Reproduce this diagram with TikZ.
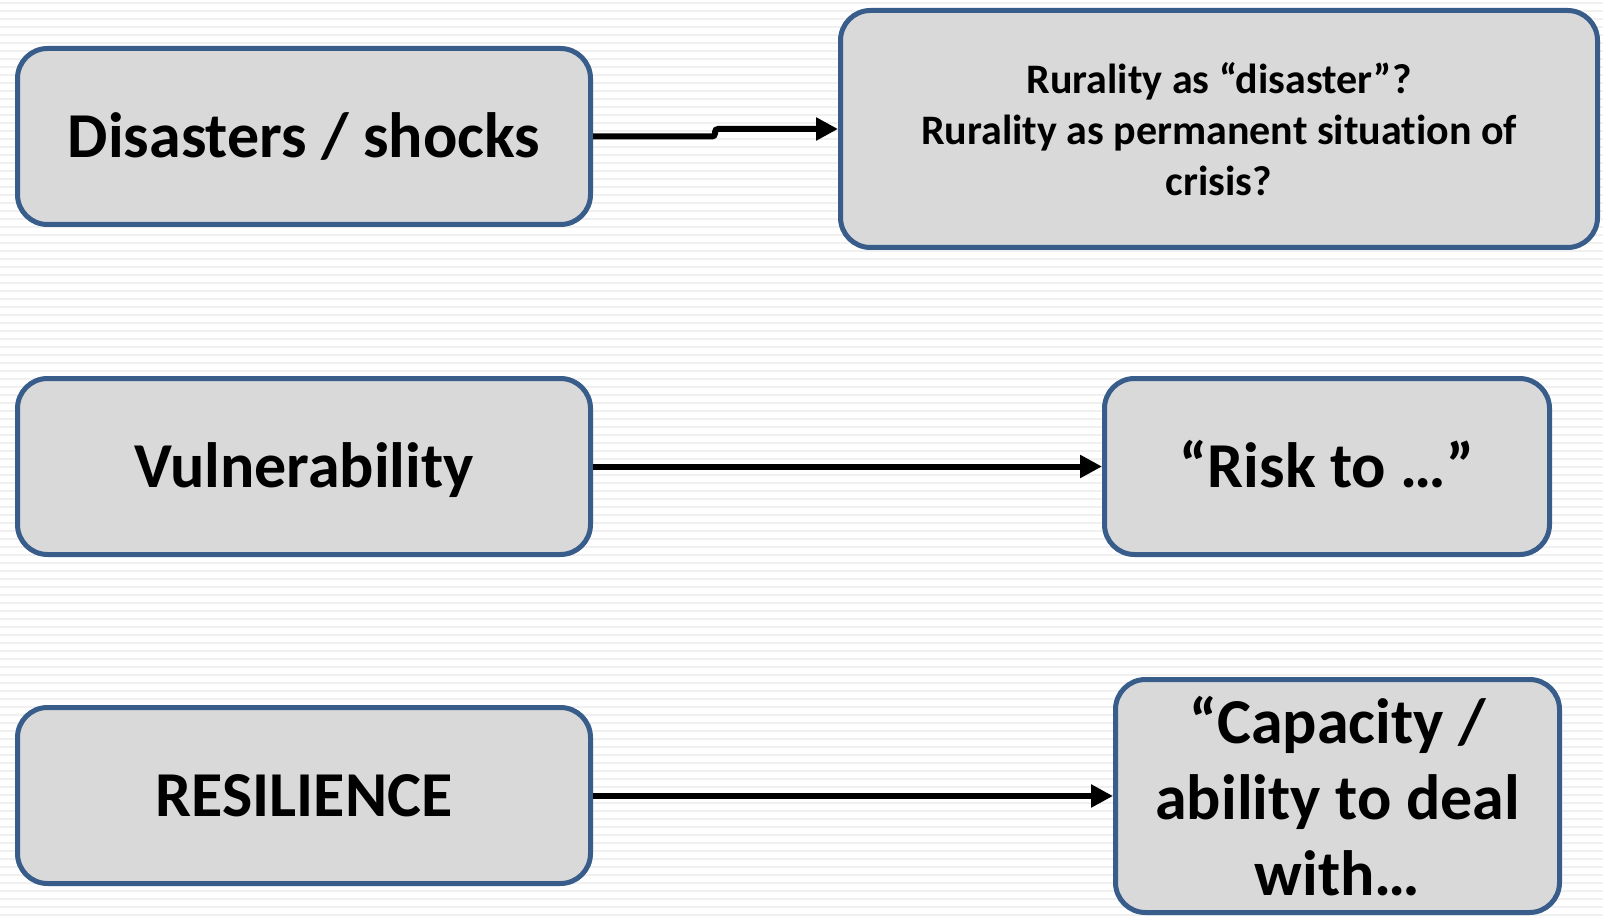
\documentclass[tikz,border=0pt]{standalone}
\usepackage{fontspec}
\setmainfont{Carlito}[Ligatures=NoCommon]
\usetikzlibrary{arrows.meta}
\definecolor{boxfill}{HTML}{D9D9D9}
\definecolor{boxline}{HTML}{385D8A}
\definecolor{stripe}{HTML}{F0F0F0}
\tikzset{
  box/.style={draw=boxline, fill=boxfill, line width=5pt, rounded corners=30pt,
    inner sep=0pt, align=center, text=black},
  bigtext/.style={font=\fontsize{64}{76}\selectfont\bfseries},
  oneline/.style={text height=55pt, text depth=13pt},
  smalltext/.style={font=\fontsize{42}{51}\selectfont\bfseries},
  conn/.style={line width=6pt, -{Triangle[length=22pt,width=22pt]}}
}
\begin{document}
\begin{tikzpicture}[x=1pt,y=-1pt]
\fill[white] (0,0) rectangle (1603,917);
\useasboundingbox (0,0) rectangle (1603,917);
\foreach \yy in {2,10,...,917} \fill[stripe] (0,\yy) rectangle (1603,\yy+2);

\node[box,bigtext,oneline,minimum width=573pt,minimum height=176pt] (b1) at (304,136.5) {Disasters / shocks};
\node[box,smalltext,minimum width=757pt,minimum height=237pt] (b2) at (1219,129)
  {Rurality as “disaster”?\\Rurality as permanent situation of\\crisis?};
\node[box,bigtext,oneline,minimum width=573pt,minimum height=176pt] (b3) at (304,466.5) {Vulnerability};
\node[box,bigtext,oneline,minimum width=445pt,minimum height=176pt] (b4) at (1327,466.5) {“Risk to …”};
\node[box,bigtext,oneline,minimum width=573pt,minimum height=176pt] (b5) at (304,795.5) {RESILIENCE};
\node[box,bigtext,minimum width=444pt,minimum height=233pt] (b6) at (1337.5,796)
  {“Capacity /\\ability to deal\\with…};

\draw[conn, rounded corners=3pt] (b1.east) -- ++(122,0) |- (b2.west);
\draw[conn] (b3.east) -- (b4.west);
\draw[conn] (b5.east) -- ++(259,0) |- (b6.west);
\end{tikzpicture}
\end{document}
